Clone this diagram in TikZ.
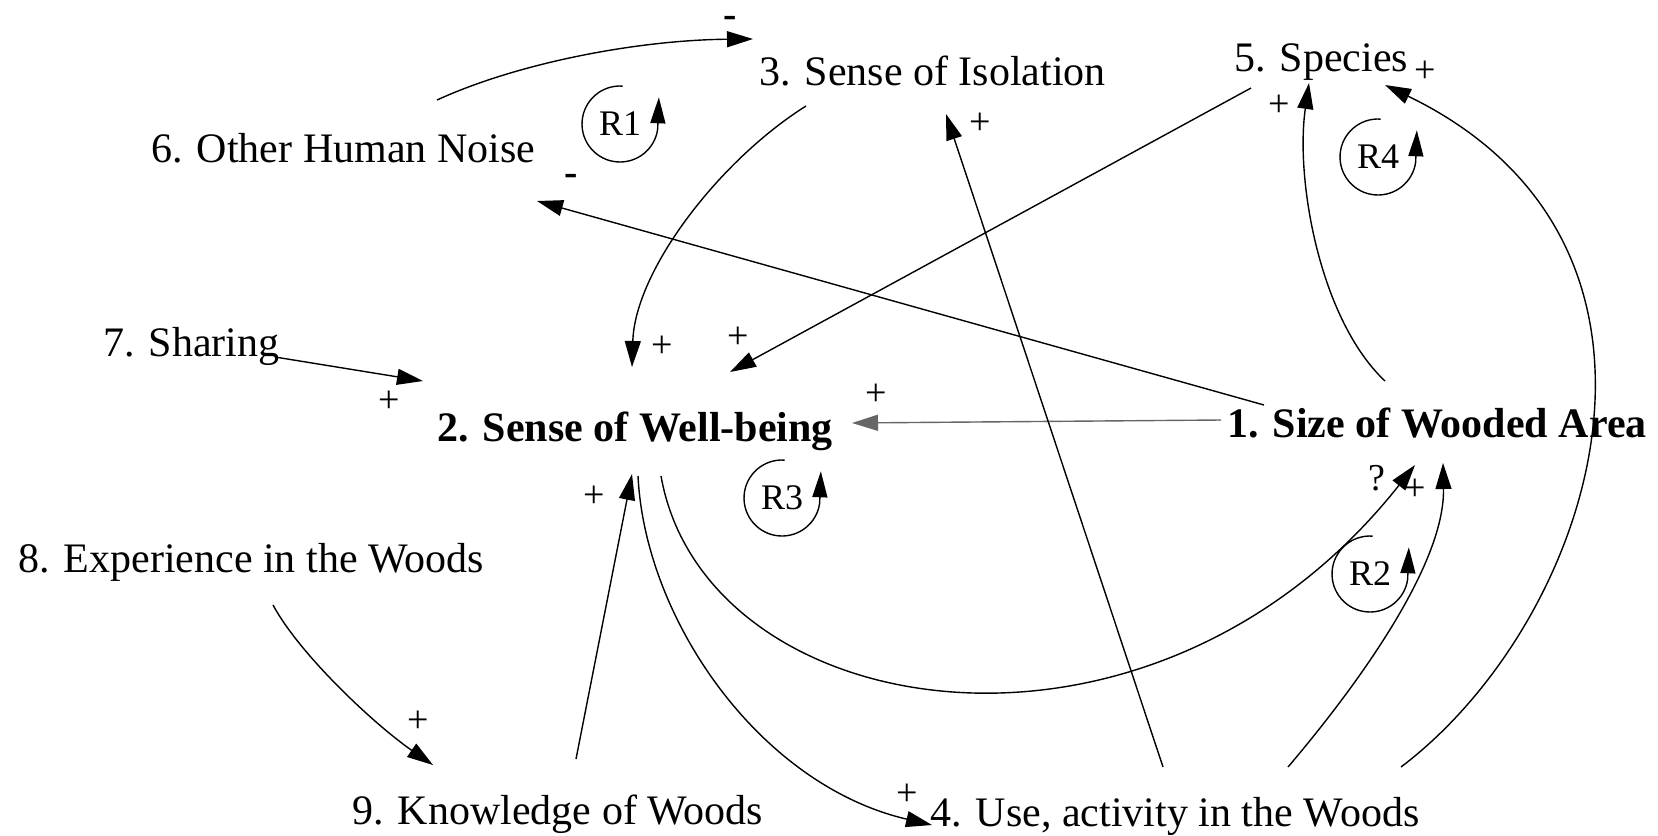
\documentclass[tikz,border=0pt]{standalone}
\usepackage{fontspec}
\setmainfont{Liberation Serif}
\usetikzlibrary{arrows.meta}
\begin{document}
\begin{tikzpicture}[x=0.5pt,y=-0.5pt,
  lbl/.style={font=\fontsize{21}{25}\selectfont, inner sep=0pt, anchor=base west},
  blbl/.style={font=\fontsize{21}{25}\selectfont\bfseries, inner sep=0pt, anchor=base west},
  sgn/.style={font=\fontsize{19}{23}\selectfont, inner sep=0pt},
  msgn/.style={font=\fontsize{20}{24}\selectfont\bfseries, inner sep=0pt},
  arr/.style={line width=0.7pt, -{Triangle[length=13pt,width=8pt]}},
  loopt/.style={font=\fontsize{18}{22}\selectfont, inner sep=0pt},
  looparr/.style={line width=0.7pt, -{Triangle[length=13pt,width=7.5pt]}},
]
\useasboundingbox (0,0) rectangle (1658,835);
% variables
\node[lbl]  (n6) at (151,162) {6. Other Human Noise};
\node[lbl]  (n3) at (759,85)  {3. Sense of Isolation};
\node[lbl]  (n5) at (1234,71) {5. Species};
\node[lbl]  (n7) at (103,356) {7. Sharing};
\node[blbl] (n2) at (437,441) {2. Sense of Well-being};
\node[blbl] (n1) at (1227,437) {1. Size of Wooded Area};
\node[lbl]  (n8) at (18,572)  {8. Experience in the Woods};
\node[lbl]  (n9) at (352,824) {9. Knowledge of Woods};
\node[lbl]  (n4) at (930,826) {4. Use, activity in the Woods};
% connector end points
\coordinate (a63) at (437,100);  \coordinate (b63) at (753,39);
\coordinate (a32) at (806,106);  \coordinate (b32) at (632,367);
\coordinate (a52) at (1251,88);  \coordinate (b52) at (730,372);
\coordinate (a16) at (1264,405); \coordinate (b16) at (537,201);
\coordinate (a72) at (275,357);  \coordinate (b72) at (423,381);
\coordinate (a12) at (1221,420); \coordinate (b12) at (852,423);
\coordinate (a21) at (661,476);  \coordinate (b21) at (1415,465);
\coordinate (a41) at (1288,767); \coordinate (b41) at (1443,463);
\coordinate (a45) at (1401,767); \coordinate (b45) at (1385,85);
\coordinate (a15) at (1385,381); \coordinate (b15) at (1309,83);
\coordinate (a43) at (1163,767); \coordinate (b43) at (946,114);
\coordinate (a89) at (273,605);  \coordinate (b89) at (433,765);
\coordinate (a92) at (576,759);  \coordinate (b92) at (632,474);
\coordinate (a24) at (638,476);  \coordinate (b24) at (932,825);
% connectors
\draw[arr] (a63) .. controls (520,62) and (640,40) .. (b63);
\draw[arr] (a32) .. controls (720,160) and (635,270) .. (b32);
\draw[arr] (a52) -- (b52);
\draw[arr] (a16) -- (b16);
\draw[arr] (a72) -- (b72);
\draw[arr, draw=black!60, fill=black] (a12) -- (b12);
\draw[arr] (a21) .. controls (705,725) and (1150,800) .. (b21);
\draw[arr] (a41) .. controls (1345,700) and (1445,570) .. (b41);
\draw[arr] (a45) .. controls (1595,620) and (1715,245) .. (b45);
\draw[arr] (a15) .. controls (1320,320) and (1295,180) .. (b15);
\draw[arr] (a43) -- (b43);
\draw[arr] (a89) .. controls (300,655) and (375,725) .. (b89);
\draw[arr] (a92) -- (b92);
\draw[arr] (a24) .. controls (645,620) and (760,785) .. (b24);
% polarity signs
\node[msgn] (s63) at (730,22)  {-};
\node[sgn]  (s32) at (662,347) {+};
\node[sgn]  (s52) at (738,338) {+};
\node[msgn] (s16) at (571,180) {-};
\node[sgn]  (s72) at (389,402) {+};
\node[sgn]  (s12) at (876,395) {+};
\node[sgn]  (q21) at (1377,478) {?};
\node[sgn]  (s21) at (1415,490) {+};
\node[sgn]  (s45) at (1425,72)  {+};
\node[sgn]  (s15) at (1279,106) {+};
\node[sgn]  (s43) at (980,124)  {+};
\node[sgn]  (s89) at (418,722)  {+};
\node[sgn]  (s92) at (594,497)  {+};
\node[sgn]  (s24) at (907,795)  {+};
% loop markers
\node[loopt] (r1) at (620,124) {R1};
\node[loopt] (r4) at (1378,157) {R4};
\node[loopt] (r3) at (782,498) {R3};
\node[loopt] (r2) at (1370,574) {R2};
\foreach \r in {r1,r2,r3,r4}{
  \draw[looparr] (\r.center) ++(86:19pt) arc[start angle=86, end angle=352, radius=19pt] -- ++(0.6pt,16pt);
}
\end{tikzpicture}
\end{document}
